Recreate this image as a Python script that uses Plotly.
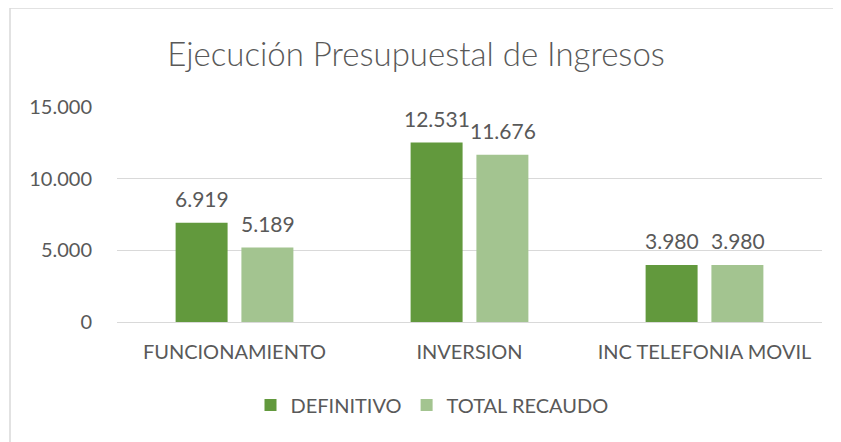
import plotly.graph_objects as go

categories = ["FUNCIONAMIENTO", "INVERSION", "INC TELEFONIA MOVIL"]
definitivo = [6919, 12531, 3980]
total_recaudo = [5189, 11676, 3980]
y_ticks = [0, 5000, 10000, 15000]
y_tick_labels = ["0", "5.000", "10.000", "15.000"]

OFF = 8  # default page body margin
W, H = 841 - OFF, 442 - OFF
# target plot area in screen pixels
PX0, PX1, PY0, PY1 = 117, 822, 107, 322
L, T = PX0 - OFF, PY0 - OFF
R = W - (PX1 - OFF)
B = H - (PY1 - OFF)
pw, ph = PX1 - PX0, PY1 - PY0

FONT = "Lato, 'Open Sans', sans-serif"
TXT = "#595959"
DARK, LIGHT = "#62993D", "#A3C490"


def fmt(v):
    return f"{v:,}".replace(",", ".")


fig = go.Figure()
fig.add_trace(go.Bar(
    name="DEFINITIVO", x=categories, y=definitivo,
    marker=dict(color=DARK, line=dict(width=0)),
))
fig.add_trace(go.Bar(
    name="TOTAL RECAUDO", x=categories, y=total_recaudo,
    marker=dict(color=LIGHT, line=dict(width=0)),
))

# data labels above the bars (placed at the data values via the axes)
annotations = []
for series, shift in ((definitivo, -33), (total_recaudo, 33)):
    for c, v in zip(categories, series):
        annotations.append(dict(
            x=c, y=v, xref="x", yref="y", text=fmt(v), showarrow=False,
            xshift=shift, yshift=24, yanchor="middle", xanchor="center",
            font=dict(size=21, color=TXT, family=FONT),
        ))


def px_x(x):
    return (x - PX0) / pw


def px_y(y):
    return (PY1 - y) / ph


fig.update_layout(
    width=W, height=H,
    margin=dict(l=L, r=R, t=T, b=B, pad=0),
    paper_bgcolor="white", plot_bgcolor="white",
    separators=",.",
    barmode="group", bargap=0.44, bargroupgap=0.21,
    font=dict(family=FONT, color=TXT, size=20),
    title=dict(text="Ejecución Presupuestal de Ingresos",
               font=dict(size=33, color=TXT, family=FONT, weight=300),
               x=(416 - OFF) / W, xanchor="center",
               y=1 - (54 - OFF) / H, yanchor="middle"),
    legend=dict(orientation="h", x=px_x(432), xanchor="center",
                y=px_y(405), yanchor="middle",
                font=dict(size=20, color=TXT, family=FONT),
                itemwidth=30, traceorder="normal"),
    showlegend=True,
    annotations=annotations,
    xaxis=dict(showgrid=False, showline=False, ticks="", zeroline=False,
               tickfont=dict(size=20, color=TXT, family=FONT),
               ticklabelstandoff=16),
    yaxis=dict(range=[0, 15000], tickvals=y_ticks, ticktext=y_tick_labels,
               showgrid=True, gridcolor="#D9D9D9", gridwidth=1,
               zeroline=True, zerolinecolor="#D9D9D9", zerolinewidth=1,
               showline=False, ticks="",
               tickfont=dict(size=20, color=TXT, family=FONT),
               ticklabelstandoff=24),
    shapes=[
        dict(type="line", xref="paper", yref="paper",
             x0=px_x(10), x1=px_x(850), y0=px_y(8), y1=px_y(8),
             line=dict(color="#D9D9D9", width=1.5)),
        dict(type="line", xref="paper", yref="paper",
             x0=px_x(10), x1=px_x(10), y0=px_y(8), y1=px_y(450),
             line=dict(color="#D9D9D9", width=1.5)),
    ],
)

fig.write_html("out.html")
